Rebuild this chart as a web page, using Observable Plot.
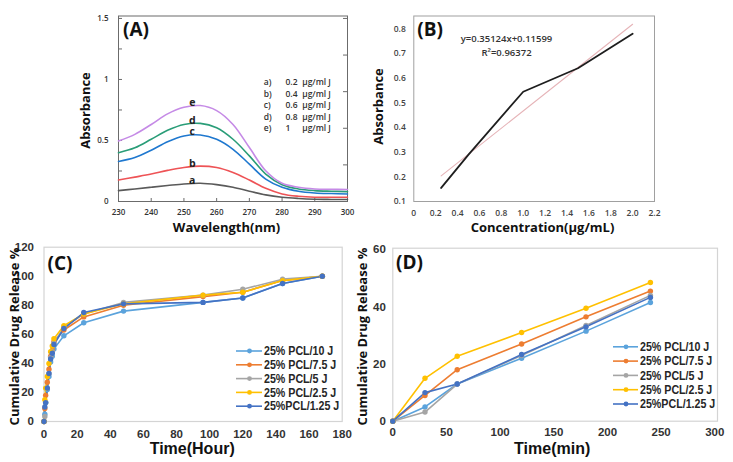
<!DOCTYPE html>
<html><head><meta charset="utf-8">
<script src="https://cdn.jsdelivr.net/npm/d3@7"></script>
<script src="https://cdn.jsdelivr.net/npm/@observablehq/plot@0.6"></script>
<style>
html,body{margin:0;padding:0;background:#fff}
#wrap{position:relative;width:733px;height:462px;overflow:hidden;background:#fff}
</style></head><body><div id="wrap"></div>
<script>
// ===== Panel A: UV spectra =====
const wavelengths = [230,235,240,245,250,255,260,265,270,275,280,285,290,295,300];
const specA = [0.089,0.103,0.117,0.131,0.144,0.149,0.138,0.117,0.084,0.054,0.035,0.025,0.019,0.017,0.016];
const specB = [0.176,0.200,0.225,0.255,0.279,0.290,0.279,0.238,0.176,0.108,0.062,0.043,0.035,0.035,0.035];
const specC = [0.328,0.360,0.420,0.490,0.537,0.545,0.510,0.428,0.306,0.184,0.117,0.084,0.070,0.065,0.062];
const specD = [0.400,0.440,0.510,0.583,0.631,0.640,0.604,0.510,0.374,0.225,0.138,0.103,0.089,0.084,0.081];
const specE = [0.496,0.550,0.631,0.718,0.772,0.786,0.745,0.631,0.442,0.252,0.149,0.117,0.103,0.100,0.098];
const curveLetters = ["a","b","c","d","e"];
const concLabels = ["0.2","0.4","0.6","0.8","1"];
const concUnit = "µg/ml J";
const aXTicks = [230,240,250,260,270,280,290,300];
const aYTicks = [0,0.5,1,1.5];
const aYMinorLeft = [0.25,0.5,0.75,1,1.25,1.5];
const aYMinorRight = [0.3,0.6,0.9,1.2,1.5];

// ===== Panel B: calibration =====
const calConc = [0.25,0.5,1.0,1.5,2.0];
const calAbs = [0.155,0.29,0.545,0.64,0.78];
const fitSlope = 0.35124, fitIntercept = 0.11599, fitR2 = "0.96372";
const bXTicks = [0,0.2,0.4,0.6,0.8,1.0,1.2,1.4,1.6,1.8,2.0,2.2];
const bYTicks = [0.1,0.2,0.3,0.4,0.5,0.6,0.7,0.8];

// ===== Panel C / D: release =====
const formulations = ["25% PCL/10 J","25% PCL/7.5 J","25% PCL/5 J","25% PCL/2.5 J","25%PCL/1.25 J"];
const hours = [0,0.5,1,2,3,4,5,6,12,24,48,96,120,144,168];
const relC10  = [0,5,13,22,31,41,45,50,59,68,76,82,85,95,100];
const relC75  = [0,9,18,27,36,45,49,55,63,72,80,86,89,97,100];
const relC5   = [0,3.5,13,23,33,44,48,54,65,74,82,87,91,98,100];
const relC25  = [0,15,23,31,40,48,52,57,66,74,81,87,89,97,100];
const relC125 = [0,10,13,23,33,43,47,53,64,75,81,82,85,95,100];
const minutes = [0,30,60,120,180,240];
const relD10  = [0,5,13,22,31.5,41.5];
const relD75  = [0,9,18,27,36.5,45.5];
const relD5   = [0,3.2,13,23,33.5,44];
const relD25  = [0,15,22.7,31,39.5,48.5];
const relD125 = [0,10,13,23.3,33,43.3];
const cXTicks = [0,20,40,60,80,100,120,140,160,180];
const cYTicks = [0,20,40,60,80,100,120];
const dXTicks = [0,50,100,150,200,250,300];
const dYTicks = [0,20,40,60];

// ===== layout helpers =====
const W = 733, H = 231;
const F_OPEN = "'Open Sans','Liberation Sans',sans-serif";
const F_ARIAL = "'Liberation Sans',Arial,sans-serif";

function geom(L, R, T, B, top, xd, yd) {
  return {L, R, T, B, top, xd, yd,
    X: px => xd[0] + (px - L) / (R - L) * (xd[1] - xd[0]),
    Y: py => yd[0] + (B - py) / (B - T) * (yd[1] - yd[0])};
}
function base(g) {
  return {width: W, height: H, marginLeft: g.L, marginRight: W - g.R,
    marginTop: g.T - g.top, marginBottom: H - (g.B - g.top),
    x: {domain: g.xd}, y: {domain: g.yd}};
}
function txt(g, s, px, py, o = {}) {
  return Plot.text([s], {x: () => g.X(px), y: () => g.Y(py), text: d => d, ...o});
}

// ===== Plot A =====
const gA = geom(118, 347, 15.5, 201, 0, [230,300], [0,1.52]);
const specsA = [specA, specB, specC, specD, specE];
const rowsA = curveLetters.flatMap((k,i) => wavelengths.map((w,j) => ({k, w, v: specsA[i][j]})));
const peaksA = curveLetters.map((k,i) => ({k, v: d3.max(specsA[i]), w: wavelengths[d3.maxIndex(specsA[i])]}));
const legA = {fontSize: 8.5, fontWeight: 600, fill: "#333", fontFamily: F_OPEN, textAnchor: "start"};
const plotA = Plot.plot({
  ...base(gA),
  color: {domain: curveLetters, range: ["#5a5a5a","#ee5356","#1f78cf","#2a9d78","#c58ae6"]},
  marks: [
    Plot.frame({stroke: "#6b6b6b"}),
    Plot.tickY(aYMinorLeft, {y: d => d, insetRight: (gA.R - gA.L) - 4, stroke: "#6b6b6b"}),
    Plot.tickY(aYMinorRight, {y: d => d, insetLeft: (gA.R - gA.L) - 4, stroke: "#6b6b6b"}),
    Plot.tickX(aXTicks, {x: d => d, insetTop: (gA.B - gA.T) - 3, stroke: "#6b6b6b"}),
    Plot.line(rowsA, {x: "w", y: "v", z: "k", stroke: "k", curve: "catmull-rom", strokeWidth: 1.6}),
    Plot.text(peaksA, {x: "w", y: "v", text: "k", dx: -8, dy: 0.5, lineAnchor: "bottom", fontWeight: "bold", fontSize: 10.5, fill: "#222", fontFamily: F_OPEN}),
    Plot.text(curveLetters, {x: () => gA.X(263.3), y: (d,i) => gA.Y(82 + i*11.5), text: d => d + ")", ...legA}),
    Plot.text(concLabels, {x: () => gA.X(285), y: (d,i) => gA.Y(82 + i*11.5), text: d => d, ...legA}),
    Plot.text(concLabels, {x: () => gA.X(301.7), y: (d,i) => gA.Y(82 + i*11.5), text: () => concUnit, ...legA}),
    Plot.axisX({ticks: aXTicks, tickSize: 0, tickPadding: 8, label: null, fontSize: 8, fontWeight: 600, color: "#333", fontFamily: F_OPEN}),
    Plot.axisY({ticks: aYTicks, tickFormat: d => String(d), tickSize: 0, tickPadding: 10, label: null, fontSize: 8, fontWeight: 600, color: "#333", fontFamily: F_OPEN}),
    txt(gA, "Absorbance", 85, 110, {rotate: -90, fontSize: 13, fontWeight: "bold", fill: "#111", fontFamily: F_OPEN}),
    txt(gA, "Wavelength(nm)", 226, 227, {fontSize: 13, fontWeight: "bold", fill: "#111", fontFamily: F_OPEN}),
    txt(gA, "(A)", 135.5, 29.5, {fontSize: 19, fontWeight: "bold", fill: "#111", fontFamily: F_OPEN})
  ]
});

// ===== Plot B =====
const gB = geom(413.3, 654, 15.5, 201, 0, [0,2.2], [0.1,0.852]);
const calRows = calConc.map((c,i) => ({c, a: calAbs[i]}));
const fitRows = d3.extent(calConc).map(c => ({c, a: fitSlope * c + fitIntercept}));
const plotB = Plot.plot({
  ...base(gB),
  marks: [
    Plot.frame({stroke: "#a0a0a0"}),
    Plot.line(fitRows, {x: "c", y: "a", stroke: "#e6b4b8", strokeWidth: 1.1}),
    Plot.line(calRows, {x: "c", y: "a", stroke: "#1e1e1e", strokeWidth: 1.8}),
    txt(gB, `y=${fitSlope}x+${fitIntercept}`, 506, 38, {fontSize: 9.5, fontWeight: 600, fill: "#333", fontFamily: F_OPEN}),
    txt(gB, `R²=${fitR2}`, 506, 52.5, {fontSize: 9.5, fontWeight: 600, fill: "#333", fontFamily: F_OPEN}),
    Plot.axisX({ticks: bXTicks, tickFormat: d => d === 0 ? "0" : d.toFixed(1), tickSize: 0, tickPadding: 8, label: null, fontSize: 8.5, fontWeight: 600, color: "#444", fontFamily: F_OPEN}),
    Plot.axisY({ticks: bYTicks, tickFormat: d => d.toFixed(1), tickSize: 0, tickPadding: 8, label: null, fontSize: 8.5, fontWeight: 600, color: "#444", fontFamily: F_OPEN}),
    txt(gB, "Absorbance", 378, 106, {rotate: -90, fontSize: 13, fontWeight: "bold", fill: "#111", fontFamily: F_OPEN}),
    txt(gB, "Concentration(µg/mL)", 542, 227, {fontSize: 13, fontWeight: "bold", fill: "#111", fontFamily: F_OPEN}),
    txt(gB, "(B)", 429.7, 29.5, {fontSize: 19, fontWeight: "bold", fill: "#111", fontFamily: F_OPEN})
  ]
});

// ===== Plot C & D =====
const relColors = ["#5ba3dc","#ed7d31","#a5a5a5","#ffc000","#4472c4"];
function releasePlot(g, times, series, xTicks, yTicks, xTitle, panel, lg, ytPad, xtPad, ylabelX, xlabelX, panelXY) {
  const rows = formulations.flatMap((f,i) => times.map((t,j) => ({f, t, v: series[i][j]})));
  return Plot.plot({
    ...base(g),
    color: {domain: formulations, range: relColors},
    marks: [
      Plot.frame({stroke: "#d4d4d4", strokeWidth: 1.2}),
      Plot.line(rows, {x: "t", y: "v", z: "f", stroke: "f", strokeWidth: 1.6}),
      Plot.dot(rows, {x: "t", y: "v", fill: "f", r: 2.7}),
      Plot.ruleY(formulations, {y: (d,i) => g.Y(lg.y0 + i*lg.dy), x1: () => g.X(lg.x1), x2: () => g.X(lg.x2), stroke: d => d, strokeWidth: 1.6}),
      Plot.dot(formulations, {y: (d,i) => g.Y(lg.y0 + i*lg.dy), x: () => g.X((lg.x1 + lg.x2)/2), fill: d => d, r: 2.4}),
      Plot.text(formulations, {y: (d,i) => g.Y(lg.y0 + i*lg.dy), x: () => g.X(lg.x2 + 1.5), text: d => d, textAnchor: "start", fontSize: 13, fontWeight: "bold", fill: "#262626", fontFamily: F_ARIAL}),
      Plot.axisX({ticks: xTicks, tickSize: 0, tickPadding: xtPad, label: null, fontSize: 11.5, fontWeight: "bold", color: "#333", fontFamily: F_ARIAL}),
      Plot.axisY({ticks: yTicks, tickSize: 0, tickPadding: ytPad, label: null, fontSize: 11.5, fontWeight: "bold", color: "#333", fontFamily: F_ARIAL}),
      txt(g, "Cumulative Drug Release %", ylabelX, 336, {rotate: -90, fontSize: 13, fontWeight: "bold", fill: "#111", fontFamily: F_OPEN}),
      txt(g, xTitle, xlabelX, 448, {fontSize: 16, fontWeight: "bold", fill: "#111", fontFamily: F_ARIAL}),
      txt(g, panel, panelXY[0], panelXY[1], {fontSize: 19, fontWeight: "bold", fill: "#111", fontFamily: F_OPEN})
    ]
  });
}
const gC = geom(43.5, 341.7, 246.7, 421, 231, [0,180], [0,120]);
const plotC = releasePlot(gC, hours, [relC10, relC75, relC5, relC25, relC125], cXTicks, cYTicks, "Time(Hour)", "(C)",
  {y0: 350.5, dy: 13.8, x1: 236, x2: 262}, 10, 8, 14, 191.7, [59.5, 263]);
const gD = geom(392.3, 717, 247.7, 420.7, 231, [0,302.5], [0,60.5]);
const plotD = releasePlot(gD, minutes, [relD10, relD75, relD5, relD25, relD125], dXTicks, dYTicks, "Time(min)", "(D)",
  {y0: 346.3, dy: 14.3, x1: 613, x2: 638}, 7, 7, 362, 551.7, [409, 262.5]);

const wrap = document.getElementById("wrap");
[[plotA,0],[plotB,0],[plotC,231],[plotD,231]].forEach(([p,top]) => {
  p.style.position = "absolute";
  p.style.left = "0px";
  p.style.top = top + "px";
  p.style.background = "transparent";
  p.style.overflow = "visible";
  p.style.maxWidth = "none";
  wrap.append(p);
});
// legend labels in C/D use a condensed (narrow) face in the reference: compress them horizontally
[plotC, plotD].forEach(p => {
  p.querySelectorAll("text").forEach(t => {
    if (formulations.includes(t.textContent)) {
      const w = t.getComputedTextLength();
      t.setAttribute("textLength", (w * 0.82).toFixed(1));
      t.setAttribute("lengthAdjust", "spacingAndGlyphs");
    }
  });
});
</script></body></html>
